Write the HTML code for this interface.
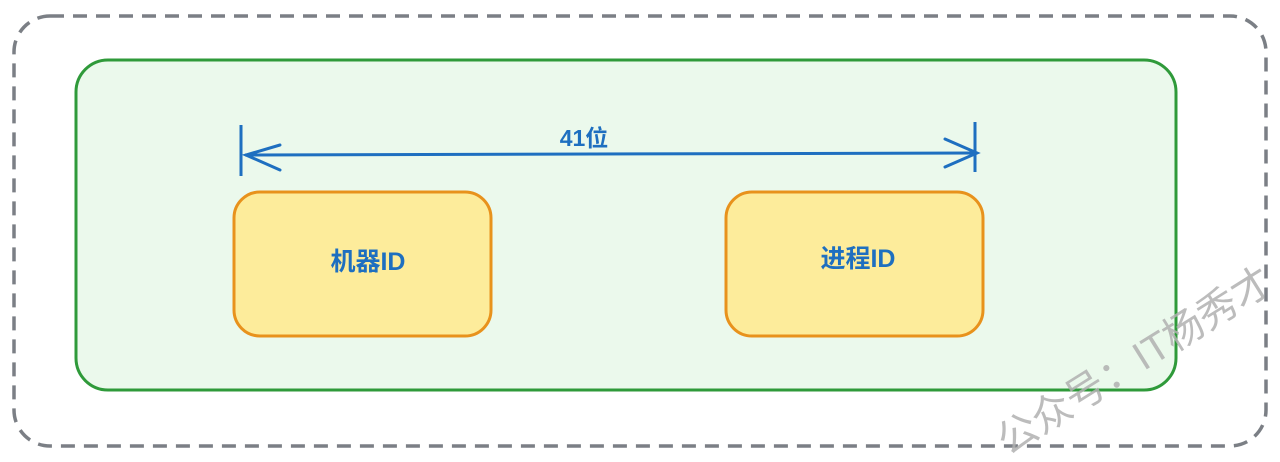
<!DOCTYPE html>
<html><head><meta charset="utf-8"><style>
body{margin:0;width:1280px;height:462px;background:#fff;overflow:hidden;position:relative;font-family:"Liberation Sans","Noto Sans CJK SC",sans-serif}
</style></head><body>
<svg width="1280" height="462" style="position:absolute;left:0;top:0">
<rect x="14" y="16" width="1252" height="430" rx="36" fill="none" stroke="#7b7f85" stroke-width="3.5" stroke-dasharray="14 9"/>
<rect x="76" y="60" width="1100" height="330" rx="32" fill="#ebf9ec" stroke="#2f9a3a" stroke-width="3"/>
<line x1="241" y1="125" x2="241" y2="176" stroke="#1e6fc0" stroke-width="3"/>
<line x1="975" y1="122" x2="975" y2="172" stroke="#1e6fc0" stroke-width="3"/>
<line x1="245" y1="155" x2="975" y2="153" stroke="#1e6fc0" stroke-width="3"/>
<polyline points="280,145 246,155 280,170" fill="none" stroke="#1e6fc0" stroke-width="3" stroke-linecap="round"/>
<polyline points="945,139 977,153 945,167" fill="none" stroke="#1e6fc0" stroke-width="3" stroke-linecap="round"/>
<rect x="234" y="192" width="257" height="144" rx="26" fill="#fdec9b" stroke="#e8921c" stroke-width="3"/>
<rect x="726" y="192" width="257" height="144" rx="26" fill="#fdec9b" stroke="#e8921c" stroke-width="3"/>
<text x="584" y="146" font-size="23" font-weight="bold" fill="#1e6fc0" text-anchor="middle" font-family="Liberation Sans, Noto Sans CJK SC, sans-serif">41位</text>
<text x="368" y="270" font-size="25" font-weight="bold" fill="#1e6fc0" text-anchor="middle" font-family="Liberation Sans, Noto Sans CJK SC, sans-serif">机器ID</text>
<text x="858" y="267" font-size="25" font-weight="bold" fill="#1e6fc0" text-anchor="middle" font-family="Liberation Sans, Noto Sans CJK SC, sans-serif">进程ID</text>
<text x="1008" y="456" font-size="40" fill="#b0b0b0" fill-opacity="0.85" transform="rotate(-32 1008 456)" font-family="Liberation Sans, Noto Sans CJK SC, sans-serif">公众号：IT杨秀才</text>
</svg>
</body></html>
